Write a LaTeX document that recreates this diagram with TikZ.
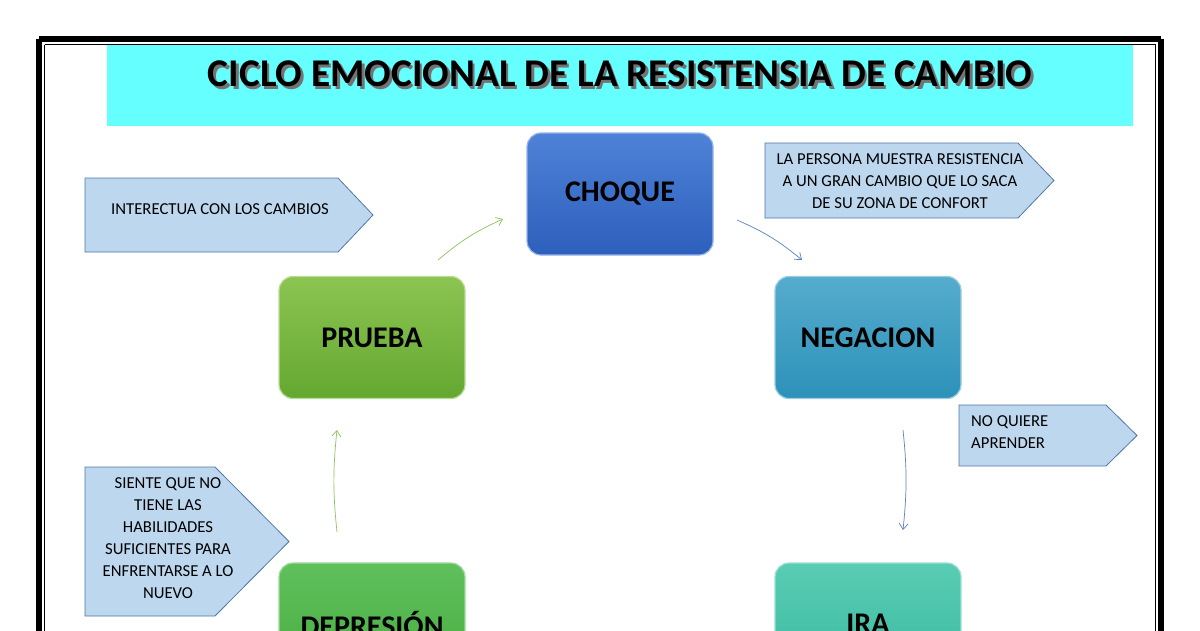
\documentclass[tikz,border=0pt]{standalone}
\usepackage{fontspec}
\setmainfont{Carlito}
\usetikzlibrary{arrows.meta}
\definecolor{cyanband}{RGB}{102,255,255}
\definecolor{notefill}{RGB}{189,215,238}
\definecolor{noteline}{RGB}{80,120,165}
\definecolor{arrowgreen}{RGB}{140,195,90}
\definecolor{arrowblue}{RGB}{90,130,190}
\definecolor{choquetop}{RGB}{78,130,215}
\definecolor{choquebot}{RGB}{45,95,188}
\definecolor{pruebatop}{RGB}{140,196,82}
\definecolor{pruebabot}{RGB}{100,168,48}
\definecolor{negaciontop}{RGB}{85,172,205}
\definecolor{negacionbot}{RGB}{45,145,185}
\definecolor{depresiontop}{RGB}{95,192,92}
\definecolor{depresionbot}{RGB}{70,172,62}
\definecolor{iratop}{RGB}{90,204,180}
\definecolor{irabot}{RGB}{55,185,158}
\tikzset{
  stagebox/.style={rectangle,rounded corners=14pt,minimum width=186pt,minimum height=122pt,
    top color=#1top,bottom color=#1bot,draw=#1top!60!white,line width=1.2pt,
    font=\fontsize{30}{32}\selectfont\bfseries},
  notebox/.style={fill=notefill,draw=noteline,line width=0.8pt},
  notetext/.style={font=\fontsize{16.7}{22}\selectfont,inner sep=0pt},
  cyclearrow/.style={-{Straight Barb[length=6pt,width=9pt]},line width=0.7pt}
}
\begin{document}
\begin{tikzpicture}[x=1pt,y=-1pt]
\useasboundingbox (0,0) rectangle (1200,630);
\fill[white] (0,0) rectangle (1200,630);

% marco
\fill[cyanband] (107,44) rectangle (1133,126);
\draw[line width=6pt] (39,39) -- (1161,39);
\draw[line width=6pt] (39,39) -- (39,700);
\draw[line width=6pt] (1161,39) -- (1161,700);
\draw[line width=1pt] (44.5,44.5) -- (1155.5,44.5);
\draw[line width=1pt] (44.5,44.5) -- (44.5,700);
\draw[line width=1pt] (1155.5,44.5) -- (1155.5,700);

\node[text=black!55,font=\fontsize{39.3}{41}\selectfont\bfseries] (TituloSombra) at (622.5,76.5) {CICLO EMOCIONAL DE LA RESISTENSIA DE CAMBIO};
\node[font=\fontsize{39.3}{41}\selectfont\bfseries] (Titulo) at (620,74) {CICLO EMOCIONAL DE LA RESISTENSIA DE CAMBIO};

% etapas
\node[stagebox=choque] (Choque) at (620,194) {CHOQUE};
\node[stagebox=prueba] (Prueba) at (372,337.5) {PRUEBA};
\node[stagebox=negacion] (Negacion) at (868,337.5) {NEGACION};
\node[stagebox=depresion] (Depresion) at (372,624) {DEPRESIÓN};
\node[stagebox=ira] (Ira) at (868,624) {IRA};

% notas
\draw[notebox] (85,178) -- (338,178) -- (373,215) -- (338,252) -- (85,252) -- cycle;
\node[notetext] (NotaPrueba) at (220,209) {INTERECTUA CON LOS CAMBIOS};
\draw[notebox] (765,143) -- (1018,143) -- (1054,180.5) -- (1018,218) -- (765,218) -- cycle;
\node[notetext,align=center] (NotaChoque) at (900,181) {LA PERSONA MUESTRA RESISTENCIA\\A UN GRAN CAMBIO QUE LO SACA\\DE SU ZONA DE CONFORT};
\draw[notebox] (959,405) -- (1106,405) -- (1137,435.5) -- (1106,466) -- (959,466) -- cycle;
\node[notetext,align=left,anchor=west] (NotaNegacion) at (971,432) {NO QUIERE\\APRENDER};
\draw[notebox] (85,467) -- (215,467) -- (289,541.5) -- (215,616) -- (85,616) -- cycle;
\node[notetext,align=center] (NotaDepresion) at (168,538) {SIENTE QUE NO\\TIENE LAS\\HABILIDADES\\SUFICIENTES PARA\\ENFRENTARSE A LO\\NUEVO};

% flechas
\coordinate (PruebaSale) at (438,260);
\coordinate (ChoqueLlega) at (503,219);
\coordinate (ChoqueSale) at (737,220);
\coordinate (NegacionLlega) at (802,260);
\coordinate (NegacionSale) at (903,430);
\coordinate (IraLlega) at (903,530);
\coordinate (DepresionSale) at (337,532);
\coordinate (PruebaLlega) at (337,430);
\draw[cyclearrow,arrowgreen] (PruebaSale) to[bend left=8] (ChoqueLlega);
\draw[cyclearrow,arrowblue] (ChoqueSale) to[bend left=8] (NegacionLlega);
\draw[cyclearrow,arrowblue] (NegacionSale) to[bend left=6] (IraLlega);
\draw[cyclearrow,arrowgreen] (DepresionSale) to[bend left=6] (PruebaLlega);
\end{tikzpicture}
\end{document}
